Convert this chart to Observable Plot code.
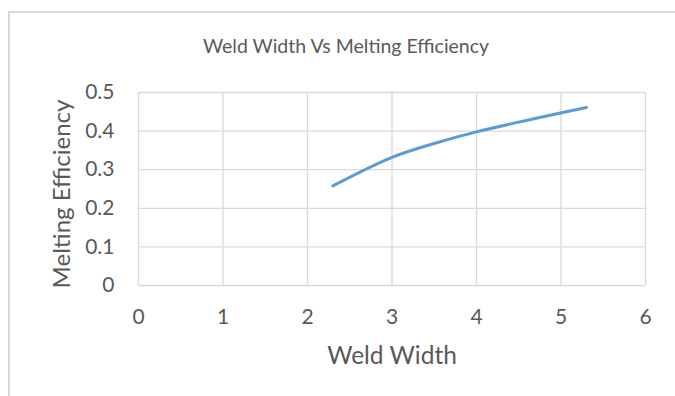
<!DOCTYPE html>
<html>
<head>
<meta charset="utf-8">
<script src="https://cdn.jsdelivr.net/npm/d3@7"></script>
<script src="https://cdn.jsdelivr.net/npm/@observablehq/plot@0.6"></script>
<style>
  html, body { margin: 0; padding: 0; background: #fff; }
  #chart { position: relative; width: 675px; height: 396px; overflow: hidden; }
  #frame {
    position: absolute; left: 8px; top: 11px; right: -10px; bottom: -10px;
    border-top: 2px solid #d9d9d9; border-left: 2px solid #d9d9d9;
    pointer-events: none;
  }
  #chart svg { position: absolute; left: 0; top: 0; }
</style>
</head>
<body>
<div id="chart"><div id="frame"></div></div>
<script>
// Weld width against melting efficiency
const weldWidth = [2.3, 3.0, 3.5, 4.0, 5.3];
const meltingEfficiency = [0.258, 0.332, 0.368, 0.398, 0.461];

const xTicks = [0, 1, 2, 3, 4, 5, 6];
const yTicks = [0, 0.1, 0.2, 0.3, 0.4, 0.5];

const title = "Weld Width Vs Melting Efficiency";
const xLabel = "Weld Width";
const yLabel = "Melting Efficiency";

const data = weldWidth.map((w, i) => ({ w, e: meltingEfficiency[i] }));

const font = "Lato, 'Open Sans', sans-serif";
const textColor = "#595959";
const gridColor = "#d9d9d9";

const chart = Plot.plot({
  width: 675,
  height: 396,
  marginLeft: 138,
  marginRight: 30,
  marginTop: 92,
  marginBottom: 111,
  style: { fontFamily: font, color: textColor, background: "transparent" },
  x: { domain: [0, 6], ticks: xTicks },
  y: { domain: [0, 0.5], ticks: yTicks },
  marks: [
    Plot.gridX(xTicks, { stroke: gridColor, strokeOpacity: 1, strokeWidth: 1.3 }),
    Plot.gridY(yTicks, { stroke: gridColor, strokeOpacity: 1, strokeWidth: 1.3 }),
    Plot.axisX(xTicks, {
      tickSize: 0, tickPadding: 24, fontSize: 21, fill: textColor,
      label: null, tickFormat: d3.format("d")
    }),
    Plot.axisY(yTicks, {
      tickSize: 0, tickPadding: 24, fontSize: 21, fill: textColor,
      label: null, tickFormat: d => d === 0 ? "0" : d3.format(".1f")(d)
    }),
    Plot.line(data, {
      x: "w", y: "e", curve: "catmull-rom",
      stroke: "#5b9bd5", strokeWidth: 3, strokeLinecap: "round"
    }),
    Plot.text([title], {
      frameAnchor: "top", dx: -46, dy: -46, lineAnchor: "middle",
      fontSize: 19.5, fill: textColor, fontFamily: font
    }),
    Plot.text([xLabel], {
      frameAnchor: "bottom", dy: 71, lineAnchor: "middle",
      fontSize: 24.5, fill: textColor, fontFamily: font
    }),
    Plot.text([yLabel], {
      frameAnchor: "left", dx: -76, dy: 5, rotate: -90, lineAnchor: "middle",
      textAnchor: "middle",
      fontSize: 24, fill: textColor, fontFamily: font
    })
  ]
});

document.getElementById("chart").appendChild(chart);
</script>
</body>
</html>
